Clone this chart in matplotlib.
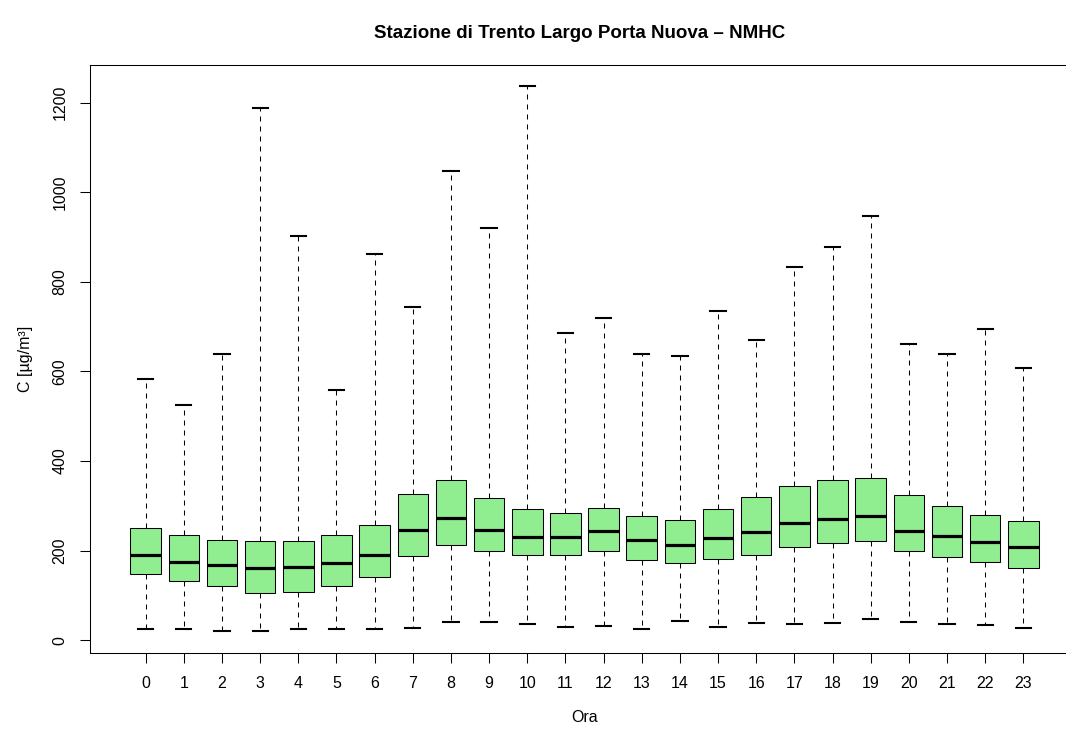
import matplotlib
matplotlib.use("Agg")
import matplotlib.pyplot as plt

plt.rcParams['font.family'] = ['Liberation Sans', 'DejaVu Sans']

# hourly NMHC statistics (µg/m³)
ore = list(range(24))
whislo = [26, 24, 20, 20, 24, 24, 24, 27, 41, 41, 36, 30, 32, 25, 43, 30, 39, 37, 39, 48, 41, 36, 34, 27]
q1 = [148, 131, 120, 106, 107, 120, 140, 188, 212, 199, 191, 190, 198, 179, 172, 181, 190, 208, 216, 222, 198, 185, 174, 162]
med = [191, 174, 167, 162, 164, 172, 190, 246, 273, 246, 231, 230, 243, 224, 212, 227, 241, 261, 271, 277, 244, 233, 220, 207]
q3 = [251, 235, 224, 221, 222, 235, 258, 326, 358, 318, 292, 285, 295, 278, 269, 293, 319, 345, 358, 362, 324, 300, 280, 265]
whishi = [583, 526, 638, 1187, 902, 558, 862, 743, 1047, 919, 1236, 685, 719, 638, 634, 735, 671, 833, 877, 946, 661, 638, 694, 607]

stats = []
for i in range(len(ore)):
    stats.append(dict(whislo=whislo[i], q1=q1[i], med=med[i], q3=q3[i],
                      whishi=whishi[i], fliers=[], label=str(ore[i])))

fig = plt.figure(figsize=(10.66, 7.31), dpi=100)
# plot box runs past the right edge of the image, as in the reference
ax = fig.add_axes([90 / 1066, 78 / 731, 989 / 1066, 588.3 / 731])

ax.bxp(stats, positions=ore, widths=0.8, capwidths=0.4, patch_artist=True,
       showfliers=False,
       boxprops=dict(facecolor='#90EE90', edgecolor='black', linewidth=0.75),
       medianprops=dict(color='black', linewidth=2.3, solid_capstyle='butt'),
       whiskerprops=dict(color='black', linewidth=0.75, linestyle=(0, (4.8, 4.8))),
       capprops=dict(color='black', linewidth=1.5))

ax.set_xlim(-0.5 - 0.96, 23.5 + 0.96)
lo, hi = min(whislo), max(whishi)
ext = (hi - lo) * 0.04
ax.set_ylim(lo - ext, hi + ext)
ax.set_xticks(ore)
ax.set_xticklabels([str(o) for o in ore])
ax.set_yticks([0, 200, 400, 600, 800, 1000, 1200])
ax.set_yticklabels(['0', '200', '400', '600', '800', '1000', '1200'], rotation=90, va='center')
ax.tick_params(axis='both', direction='out', length=7.2, width=0.75, labelsize=11.5, pad=9)
for s in ax.spines.values():
    s.set_linewidth(0.75)
ax.spines['right'].set_visible(False)

ax.set_xlabel('Ora', fontsize=11.5, labelpad=14)
ax.set_ylabel('C [µg/m³]', fontsize=11.5, labelpad=14)
fig.suptitle('Stazione di Trento Largo Porta Nuova – NMHC', fontsize=13.5,
             fontweight='bold', x=580 / 1066, y=1 - 33 / 731, va='center')

fig.savefig('out.png', dpi=100)
